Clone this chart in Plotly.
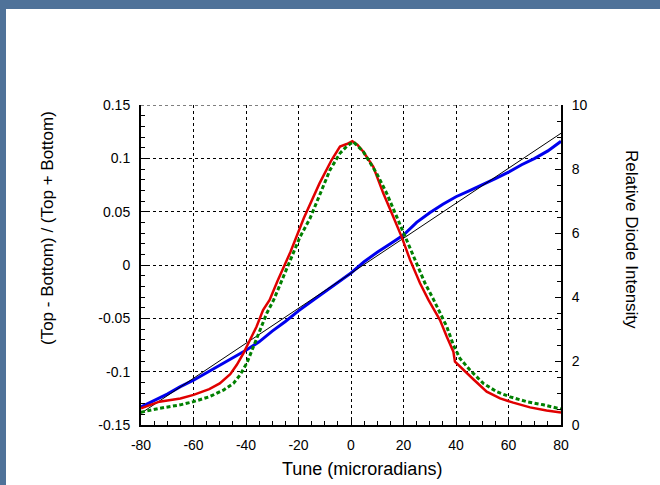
import plotly.graph_objects as go

# Tune scan: position-sensitive ratio (left axis) and diode intensities (right axis)
tune_ratio = [-80, -75, -70, -65, -60, -55, -50, -45, -40, -35, -30, -25, -20, -15,
              -10, -5, 0, 5, 10, 15, 20, 25, 30, 35, 40, 45, 50, 55, 60, 65, 70, 75, 80]
ratio = [-0.133, -0.127, -0.121, -0.114, -0.108, -0.101, -0.094, -0.087, -0.080,
         -0.072, -0.062, -0.053, -0.043, -0.034, -0.025, -0.016, -0.0075, 0.003,
         0.012, 0.020, 0.028, 0.040, 0.049, 0.057, 0.064, 0.0695, 0.075, 0.081,
         0.087, 0.094, 0.100, 0.107, 0.116]

fit_x = [-80, 80]
fit_y = [-0.139, 0.1235]

tune_top = [-80, -73, -65, -60, -54, -50, -46, -43.5, -41, -38.5, -36, -33.5, -31,
            -28, -25, -23, -18, -12, -7.4, -4.2, -1.6, 0.5, 2.5, 4.7, 8.5, 12.3,
            16.1, 19.3, 22.5, 26.3, 29.5, 33.9, 36.5, 39, 39.6, 42.8, 46.6, 51.7,
            56.8, 61.8, 68.2, 74.5, 80]
intensity_top = [0.52, 0.73, 0.83, 0.94, 1.12, 1.30, 1.59, 1.88, 2.24, 2.66, 3.07,
                 3.59, 3.91, 4.50, 5.05, 5.42, 6.46, 7.55, 8.28, 8.70, 8.78, 8.87,
                 8.75, 8.54, 8.07, 7.24, 6.51, 5.88, 5.16, 4.43, 3.91, 3.28, 2.76,
                 2.29, 1.98, 1.72, 1.43, 1.04, 0.83, 0.70, 0.55, 0.45, 0.39]

tune_bottom = [-80, -73, -65, -60, -54, -48.6, -44.8, -42.3, -39.7, -37.2, -34.7,
               -32.1, -29.5, -22, -19.4, -15.6, -11.8, -8, -4.2, -1.5, 0.9, 4.7,
               9.8, 13.6, 17.4, 20.6, 24.4, 28.2, 31.5, 36.5, 39, 41.5, 45.3, 50.4,
               55.5, 60.6, 66.9, 73.3, 80]
intensity_bottom = [0.40, 0.52, 0.63, 0.73, 0.88, 1.09, 1.30, 1.56, 1.93, 2.45,
                    2.97, 3.49, 3.90, 5.36, 5.88, 6.46, 7.24, 7.97, 8.49, 8.72,
                    8.85, 8.54, 7.86, 7.24, 6.51, 5.88, 5.16, 4.43, 3.91, 3.07,
                    2.50, 2.08, 1.72, 1.30, 1.04, 0.88, 0.73, 0.63, 0.50]

x_ticks = [-80, -60, -40, -20, 0, 20, 40, 60, 80]
x_labels = ["-80", "-60", "-40", "-20", "0", "20", "40", "60", "80"]
y_ticks = [-0.15, -0.1, -0.05, 0, 0.05, 0.1, 0.15]
y_labels = ["-0.15", "-0.1", "-0.05", "0", "0.05", "0.1", "0.15"]
y2_ticks = [0, 2, 4, 6, 8, 10]
y2_labels = ["0", "2", "4", "6", "8", "10"]

FONT = "Liberation Sans, Arial, sans-serif"
FRAME = "#4f7299"

fig = go.Figure()
fig.add_trace(go.Scatter(x=tune_ratio, y=ratio, mode="lines",
                         line=dict(color="#0000ee", width=3), yaxis="y"))
fig.add_trace(go.Scatter(x=fit_x, y=fit_y, mode="lines",
                         line=dict(color="black", width=1), yaxis="y"))
fig.add_trace(go.Scatter(x=tune_top, y=intensity_top, mode="lines",
                         line=dict(color="#e00000", width=2.5), yaxis="y2"))
fig.add_trace(go.Scatter(x=tune_bottom, y=intensity_bottom, mode="lines",
                         line=dict(color="#008000", width=3, dash="4px,2.5px"),
                         yaxis="y2"))

axis_common = dict(
    ticks="inside", ticklen=6, tickwidth=1, tickcolor="black",
    showline=True, linecolor="black", linewidth=2,
    zeroline=False,
    tickfont=dict(family=FONT, size=14, color="black"),
)

fig.update_layout(
    width=660, height=485,
    margin=dict(l=141, r=99, t=105, b=60),
    paper_bgcolor="white", plot_bgcolor="white",
    showlegend=False,
    xaxis=dict(
        range=[-80, 80], tickvals=x_ticks, ticktext=x_labels,
        showgrid=True, gridcolor="black", gridwidth=1, griddash="dot",
        minor=dict(dtick=5, ticks="inside", ticklen=4, tickcolor="black",
                   showgrid=False),
        ticklabelstandoff=6,
        **axis_common,
    ),
    xaxis2=dict(
        range=[-80, 80], overlaying="x", side="top", anchor="y",
        tickvals=x_ticks, showticklabels=False,
        ticks="inside", ticklen=6, tickcolor="black",
        minor=dict(dtick=5, ticks="inside", ticklen=4, tickcolor="black"),
        showline=False, showgrid=False, zeroline=False,
    ),
    yaxis=dict(
        range=[-0.15, 0.15], tickvals=y_ticks, ticktext=y_labels,
        showgrid=True, gridcolor="black", gridwidth=1, griddash="dot",
        minor=dict(dtick=0.01, ticks="inside", ticklen=4, tickcolor="black",
                   showgrid=False),
        ticklabelstandoff=6,
        **axis_common,
    ),
    yaxis2=dict(
        range=[0, 10], overlaying="y", side="right", anchor="x",
        tickvals=y2_ticks, ticktext=y2_labels, showgrid=False,
        minor=dict(dtick=0.5, ticks="inside", ticklen=4, tickcolor="black"),
        ticklabelstandoff=6,
        **axis_common,
    ),
)

# Dotted top border at the upper y limit
fig.add_shape(type="line", xref="x", yref="y", x0=-80, x1=80, y0=0.15, y1=0.15,
              line=dict(color="black", width=1, dash="dot"))

# Blue slide frame along the top and left edges
fig.add_shape(type="rect", xref="paper", yref="paper", layer="below",
              x0=-141 / 420, x1=519 / 420, y0=1 + 105 / 320, y1=1 + 96 / 320,
              line=dict(width=0), fillcolor=FRAME)
fig.add_shape(type="rect", xref="paper", yref="paper", layer="below",
              x0=-141 / 420, x1=-135 / 420, y0=-60 / 320, y1=1 + 105 / 320,
              line=dict(width=0), fillcolor=FRAME)

title_font = dict(family=FONT, size=17, color="black")
fig.add_annotation(text="Tune (microradians)", xref="paper", yref="paper",
                   x=(362 - 141) / 420, y=-(469 - 425) / 320,
                   showarrow=False, font=dict(family=FONT, size=18, color="black"),
                   xanchor="center", yanchor="middle")
fig.add_annotation(text="(Top - Bottom) / (Top + Bottom)", xref="paper", yref="paper",
                   x=(47 - 141) / 420, y=1 - (228 - 105) / 320, textangle=-90,
                   showarrow=False, font=title_font, xanchor="center", yanchor="middle")
fig.add_annotation(text="Relative Diode Intensity", xref="paper", yref="paper",
                   x=(632 - 141) / 420, y=1 - (239 - 105) / 320, textangle=90,
                   showarrow=False, font=title_font, xanchor="center", yanchor="middle")

fig.write_html("out.html")
